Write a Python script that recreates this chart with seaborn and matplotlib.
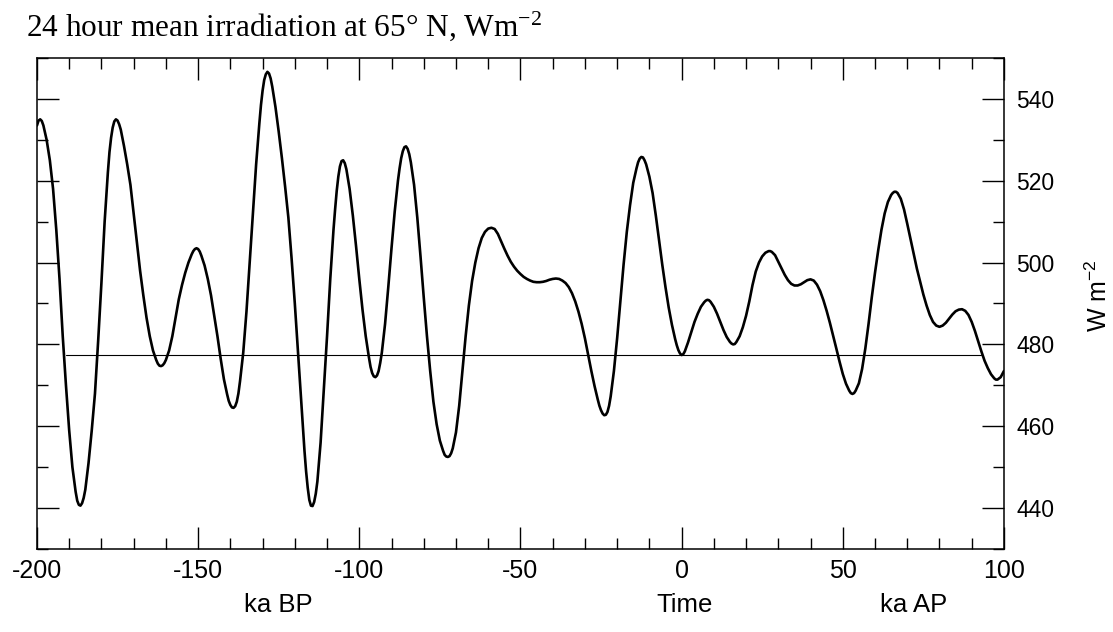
import numpy as np
import pandas as pd
import matplotlib
matplotlib.use("Agg")
import matplotlib.pyplot as plt
import seaborn as sns
from matplotlib.ticker import MultipleLocator

# =============================================================================
# Data (time in ka, negative = before present)
# =============================================================================
TIME_KA = [
    -200, -199.5, -199, -198.5, -198, -197, -196, -195, -194, -193, -192, -191,
    -190, -189, -188, -187.5, -187, -186.5, -186, -185.5, -185, -184, -183, -182,
    -181, -180, -179, -178, -177.5, -177, -176.5, -176, -175.5, -175, -174.5, -174,
    -173, -172, -171, -170, -169, -168, -167, -166, -165, -164, -163, -162.5,
    -162, -161.5, -161, -160.5, -160, -159, -158, -157, -156, -155, -154, -153,
    -152, -151.5, -151, -150.5, -150, -149.5, -149, -148, -147, -146, -145, -144,
    -143, -142, -141, -140.5, -140, -139.5, -139, -138.5, -138, -137.5, -137, -136,
    -135, -134, -133, -132, -131, -130.5, -130, -129.5, -129, -128.5, -128, -127.5,
    -127, -126, -125, -124, -123, -122, -121, -120, -119, -118, -117, -116.5,
    -116, -115.5, -115, -114.5, -114, -113.5, -113, -112, -111, -110, -109, -108,
    -107.5, -107, -106.5, -106, -105.5, -105, -104.5, -104, -103, -102, -101, -100,
    -99, -98, -97, -96.5, -96, -95.5, -95, -94.5, -94, -93.5, -93, -92,
    -91, -90, -89, -88, -87.5, -87, -86.5, -86, -85.5, -85, -84.5, -84,
    -83, -82, -81, -80, -79, -78, -77, -76, -75, -74, -73.5, -73,
    -72.5, -72, -71.5, -71, -70, -69, -68, -67, -66, -65, -64, -63,
    -62, -61, -60, -59, -58, -57, -56, -55, -54, -53, -52, -51,
    -50, -49, -48, -47, -46, -45, -44, -43, -42, -41, -40, -39,
    -38, -37, -36, -35, -34, -33, -32, -31, -30, -29, -28, -27,
    -26, -25.5, -25, -24.5, -24, -23.5, -23, -22.5, -22, -21, -20, -19,
    -18, -17, -16, -15, -14, -13.5, -13, -12.5, -12, -11.5, -11, -10,
    -9, -8, -7, -6, -5, -4, -3, -2, -1.5, -1, -0.5, 0,
    0.5, 1, 2, 3, 4, 5, 6, 7, 7.5, 8, 8.5, 9,
    10, 11, 12, 13, 14, 15, 15.5, 16, 16.5, 17, 18, 19,
    20, 21, 22, 23, 24, 25, 26, 27, 27.5, 28, 29, 30,
    31, 32, 33, 34, 35, 36, 37, 38, 39, 40, 41, 42,
    43, 44, 45, 46, 47, 48, 49, 50, 51, 52, 52.5, 53,
    53.5, 54, 55, 56, 57, 58, 59, 60, 61, 62, 63, 64,
    65, 65.5, 66, 66.5, 67, 68, 69, 70, 71, 72, 73, 74,
    75, 76, 77, 78, 79, 80, 81, 82, 83, 84, 85, 86,
    87, 88, 89, 90, 91, 92, 93, 94, 95, 96, 97, 97.5,
    98, 99, 100,
]
IRRADIATION = [
    533.5, 534.7, 535.0, 534.6, 533.5, 530.0, 525.0, 518.0, 508.0, 496.0, 482.0, 470.0,
    459.0, 450.0, 444.0, 441.8, 440.8, 440.6, 441.2, 442.5, 444.5, 451.0, 459.0, 468.0,
    481.0, 495.0, 510.0, 522.0, 527.0, 530.5, 533.0, 534.5, 535.0, 534.7, 533.8, 532.5,
    528.5, 524.0, 519.0, 512.0, 505.0, 498.0, 492.0, 486.5, 482.0, 478.5, 476.2, 475.3,
    474.8, 474.7, 474.9, 475.4, 476.2, 478.5, 482.0, 486.5, 491.0, 494.5, 497.5, 500.0,
    502.0, 502.8, 503.3, 503.5, 503.3, 502.7, 501.7, 499.3, 496.0, 492.0, 487.0, 482.0,
    476.5, 471.5, 467.8, 466.2, 465.2, 464.6, 464.5, 464.9, 466.0, 468.0, 471.0, 478.0,
    488.0, 500.0, 512.0, 524.0, 534.0, 538.5, 542.0, 544.6, 546.0, 546.6, 546.2, 545.0,
    543.0, 538.0, 532.0, 525.5, 518.5, 511.0, 501.0, 490.0, 478.0, 466.0, 454.0, 449.0,
    445.0, 442.0, 440.6, 440.5, 441.5, 443.5, 446.5, 456.0, 469.0, 482.0, 496.0, 508.0,
    513.0, 517.5, 521.0, 523.5, 524.8, 525.0, 524.3, 522.8, 518.0, 511.5, 504.0, 496.0,
    488.5, 482.0, 476.8, 474.5, 473.0, 472.2, 472.0, 472.4, 473.5, 475.5, 478.0, 485.0,
    494.0, 503.5, 512.5, 520.0, 523.0, 525.5, 527.2, 528.2, 528.4, 527.8, 526.5, 524.5,
    519.0, 511.0, 501.5, 491.5, 482.0, 473.5, 466.0, 460.5, 456.5, 454.0, 453.0, 452.6,
    452.5, 452.7, 453.4, 454.6, 458.5, 465.0, 473.5, 482.0, 489.5, 495.5, 500.0, 503.5,
    506.0, 507.5, 508.3, 508.5, 508.2, 507.0, 505.2, 503.4, 501.7, 500.2, 499.0, 498.0,
    497.2, 496.5, 496.0, 495.6, 495.3, 495.2, 495.2, 495.3, 495.5, 495.8, 496.0, 496.1,
    496.0, 495.6, 495.0, 494.0, 492.5, 490.5, 488.0, 485.0, 481.5, 477.5, 473.5, 469.8,
    466.5, 465.0, 463.9, 463.1, 462.7, 462.8, 463.5, 465.0, 467.3, 473.5, 481.5, 490.5,
    499.5, 507.5, 514.0, 519.5, 523.0, 524.5, 525.4, 525.8, 525.7, 525.0, 524.0, 521.0,
    517.0, 511.5, 505.5, 499.5, 494.0, 489.0, 484.8, 481.3, 479.8, 478.6, 477.8, 477.4,
    477.6, 478.3, 480.5, 483.0, 485.5, 487.5, 489.2, 490.3, 490.7, 490.9, 490.8, 490.4,
    489.2, 487.5, 485.5, 483.5, 481.8, 480.6, 480.2, 480.0, 480.1, 480.6, 482.0, 484.2,
    487.0, 490.5, 494.5, 497.8, 500.0, 501.5, 502.4, 502.8, 502.8, 502.6, 501.8, 500.2,
    498.6, 497.0, 495.7, 494.8, 494.4, 494.4, 494.7, 495.2, 495.7, 495.9, 495.6, 494.6,
    493.0, 490.8, 488.2, 485.3, 482.2, 479.0, 475.8, 472.8, 470.4, 468.7, 468.1, 467.9,
    468.1, 468.7, 470.5, 474.0, 479.0, 485.0, 491.5, 497.5, 503.0, 508.0, 512.0, 514.8,
    516.5, 517.0, 517.3, 517.3, 517.0, 515.6, 513.0, 509.5, 505.8, 502.0, 498.5, 495.3,
    492.2, 489.5, 487.2, 485.5, 484.6, 484.3, 484.6, 485.3, 486.3, 487.3, 488.1, 488.5,
    488.6, 488.2, 487.2, 485.5, 483.3, 480.8, 478.3, 476.0, 474.2, 472.7, 471.7, 471.4,
    471.4, 472.0, 473.5,
]

# thin reference level drawn across the panel
REF_TIME = [-191, 93]
REF_LEVEL = [477.5, 477.5]

X_TICKS = [-200, -150, -100, -50, 0, 50, 100]
Y_TICKS = [440, 460, 480, 500, 520, 540]

TITLE = "24 hour mean irradiation at 65\u00b0 N, Wm$^{-2}$"
Y_LABEL = "W m$^{-2}$"
UNDER_LABELS = ["ka BP", "Time", "ka AP"]
UNDER_POS = [-125, 1, 72]

# =============================================================================
# Style
# =============================================================================
sns.set_theme(style="ticks")
plt.rcParams["font.family"] = ["Liberation Sans", "DejaVu Sans"]
plt.rcParams["mathtext.default"] = "regular"
plt.rcParams["axes.unicode_minus"] = False
plt.rcParams["text.color"] = "black"

df = pd.DataFrame({"time": TIME_KA, "irr": IRRADIATION})
ref = pd.DataFrame({"time": REF_TIME, "irr": REF_LEVEL})

fig = plt.figure(figsize=(11.13, 6.32), dpi=100)
ax = fig.add_axes([0.0332, 0.1313, 0.8688, 0.777])

sns.lineplot(data=df, x="time", y="irr", ax=ax, color="black",
             linewidth=1.9, sort=False, solid_joinstyle="round",
             solid_capstyle="round")
sns.lineplot(data=ref, x="time", y="irr", ax=ax, color="black",
             linewidth=0.8, sort=False)

ax.set_xlim(-200, 100)
ax.set_ylim(430, 550)
ax.set_xticks(X_TICKS)
ax.set_yticks(Y_TICKS)
ax.xaxis.set_minor_locator(MultipleLocator(10))
ax.yaxis.set_minor_locator(MultipleLocator(10))
ax.set_xlabel("")

ax.tick_params(which="both", direction="in", top=True, bottom=True,
               left=True, right=True, labelleft=False, labelright=True,
               colors="black", width=1.0)
ax.tick_params(which="major", length=16)
ax.tick_params(which="minor", length=8)
ax.tick_params(axis="x", labelsize=18, pad=7)
ax.tick_params(axis="y", labelsize=16.5, pad=9)

for sp in ax.spines.values():
    sp.set_visible(True)
    sp.set_linewidth(1.1)
    sp.set_color("black")

ax.yaxis.set_label_position("right")
ax.set_ylabel(Y_LABEL, fontsize=18, color="black")
ax.yaxis.set_label_coords(1.084, 0.515)

fig.text(0.023, 1 - 36 / 632, TITLE, fontsize=22.5, family="Liberation Serif",
         ha="left", va="baseline", color="black")

for lab, pos in zip(UNDER_LABELS, UNDER_POS):
    ax.annotate(lab, xy=(pos, 0), xycoords=("data", "figure fraction"),
                xytext=(0, 0.042 * 632), textcoords="offset pixels",
                ha="center", va="center", fontsize=18.5, color="black")

fig.savefig("out.png", dpi=100)
